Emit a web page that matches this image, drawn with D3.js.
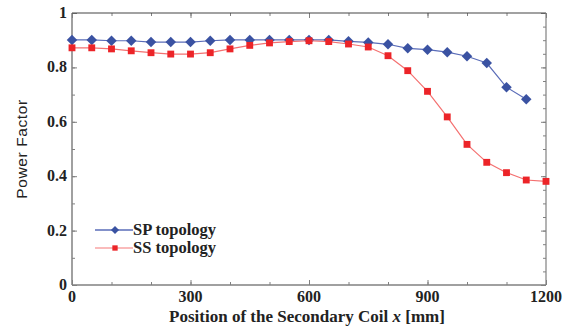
<!DOCTYPE html>
<html>
<head>
<meta charset="utf-8">
<script src="https://cdn.jsdelivr.net/npm/d3@7"></script>
<style>
  body { margin: 0; background: #fff; }
</style>
</head>
<body>
<div id="chart"></div>
<script>
// chart data
const positions = [0, 50, 100, 150, 200, 250, 300, 350, 400, 450, 500, 550, 600,
                   650, 700, 750, 800, 850, 900, 950, 1000, 1050, 1100, 1150, 1200]
const spValues = [0.901, 0.901, 0.898, 0.898, 0.893, 0.893, 0.893, 0.898, 0.901, 0.901, 0.901, 0.901, 0.901,
                  0.901, 0.896, 0.892, 0.885, 0.870, 0.865, 0.856, 0.841, 0.816, 0.727, 0.683]
const ssValues = [0.872, 0.872, 0.868, 0.861, 0.854, 0.849, 0.849, 0.854, 0.868, 0.881, 0.890, 0.895, 0.898,
                  0.895, 0.886, 0.875, 0.843, 0.788, 0.712, 0.618, 0.517, 0.451, 0.413, 0.386, 0.381]
const seriesNames = ["SP topology", "SS topology"]
const xTicks = [0, 300, 600, 900, 1200]
const yTicks = [0, 0.2, 0.4, 0.6, 0.8, 1]

const W = 575, H = 327
const margin = {top: 13, right: 29, bottom: 42, left: 72}
const width = W - margin.left - margin.right
const height = H - margin.top - margin.bottom
const FONT = "'Liberation Serif', 'Times New Roman', Times, serif"

const svg = d3.select("#chart").append("svg")
    .attr("width", W).attr("height", H)
    .attr("font-family", FONT)
const g = svg.append("g")
    .attr("transform", "translate(" + margin.left + "," + margin.top + ")")

const x = d3.scaleLinear().domain([0, 1200]).range([0, width])
const y = d3.scaleLinear().domain([0, 1]).range([height, 0])

const axisColor = "#808080"

// minor ticks first, then major ones, all pointing inward
const minorX = d3.range(0, 1201, 100)
const minorYLeft = d3.range(0, 1.001, 0.1)
const minorYRight = d3.range(0, 1.001, 0.05)

const drawTicks = (axisFn, scale, vals, size, tr) => {
  const a = g.append("g").attr("transform", tr)
    .call(axisFn(scale).tickValues(vals).tickSize(size).tickFormat(""))
  a.select(".domain").remove()
  a.selectAll("line").attr("stroke", axisColor)
  return a
}
drawTicks(d3.axisTop, x, minorX, 3, "translate(0," + height + ")")
drawTicks(d3.axisTop, x, xTicks, 5, "translate(0," + height + ")")
drawTicks(d3.axisBottom, x, minorX, 3, "translate(0,0)")
drawTicks(d3.axisBottom, x, xTicks, 5, "translate(0,0)")
drawTicks(d3.axisRight, y, minorYLeft, 3, "translate(0,0)")
drawTicks(d3.axisRight, y, yTicks, 5, "translate(0,0)")
drawTicks(d3.axisLeft, y, minorYRight, 3, "translate(" + width + ",0)")
drawTicks(d3.axisLeft, y, yTicks, 5, "translate(" + width + ",0)")

// frame
g.append("line").attr("x1", 0).attr("x2", 0).attr("y1", 0).attr("y2", height)
  .attr("stroke", axisColor).attr("stroke-width", 1.5)
g.append("line").attr("x1", 0).attr("x2", width).attr("y1", height).attr("y2", height)
  .attr("stroke", axisColor).attr("stroke-width", 1.5)
g.append("line").attr("x1", 0).attr("x2", width).attr("y1", 0).attr("y2", 0)
  .attr("stroke", "#444").attr("stroke-width", 1.2)
g.append("line").attr("x1", width).attr("x2", width).attr("y1", 0).attr("y2", height)
  .attr("stroke", axisColor).attr("stroke-width", 1.2)

// tick labels
g.selectAll(".xlab").data(xTicks).enter().append("text")
  .attr("x", d => x(d)).attr("y", height + 17)
  .attr("text-anchor", "middle").attr("font-size", 16).attr("font-weight", "bold")
  .attr("fill", "#222").text(d => d)
g.selectAll(".ylab").data(yTicks).enter().append("text")
  .attr("x", -5).attr("y", d => y(d) + 5)
  .attr("text-anchor", "end").attr("font-size", 16).attr("font-weight", "bold")
  .attr("fill", "#222").text(d => d)

// axis titles
const xt = svg.append("text")
  .attr("x", margin.left + width / 2 - 2).attr("y", 322)
  .attr("text-anchor", "middle").attr("font-size", 17).attr("font-weight", "bold")
  .attr("fill", "#222")
xt.append("tspan").text("Position of the Secondary Coil ")
xt.append("tspan").attr("font-style", "italic").text("x")
xt.append("tspan").text(" [mm]")

svg.append("text")
  .attr("transform", "translate(27,149) rotate(-90)")
  .attr("text-anchor", "middle").attr("font-size", 15.5)
  .attr("font-family", "'Liberation Sans', Arial, sans-serif")
  .attr("letter-spacing", 0.6)
  .attr("fill", "#222").text("Power Factor")

// series
const series = [
  {name: seriesNames[0], vals: spValues, line: "#5a6cb8", legLine: "#5a6cb8", fill: "#3a52a2", shape: d3.symbolDiamond2, size: 70},
  {name: seriesNames[1], vals: ssValues, line: "#f47070", legLine: "#f8a4a4", fill: "#ec2428", shape: d3.symbolSquare2, size: 60}
]

const lineGen = d3.line().x(d => x(d[0])).y(d => y(d[1]))

series.forEach(s => {
  const pts = s.vals.map((v, i) => [positions[i], v])
  g.append("path").datum(pts)
    .attr("fill", "none").attr("stroke", s.line).attr("stroke-width", 1.2)
    .attr("d", lineGen)
  g.selectAll(null).data(pts).enter().append("path")
    .attr("transform", d => "translate(" + x(d[0]) + "," + y(d[1]) + ")")
    .attr("d", d3.symbol().type(s.shape).size(s.size))
    .attr("fill", s.fill)
})

// legend
const legend = g.append("g").attr("transform", "translate(23,217)")
series.forEach((s, i) => {
  const row = legend.append("g").attr("transform", "translate(0," + (i * 18) + ")")
  row.append("line").attr("x1", 0).attr("x2", 38).attr("y1", 0).attr("y2", 0)
    .attr("stroke", s.legLine).attr("stroke-width", 1.4)
  row.append("path").attr("transform", "translate(20,0)")
    .attr("d", d3.symbol().type(s.shape).size(s.size * 0.6))
    .attr("fill", s.fill)
  row.append("text").attr("x", 38).attr("y", 5)
    .attr("font-size", 16.5).attr("font-weight", "bold").attr("fill", "#222")
    .text(s.name)
})
</script>
</body>
</html>
